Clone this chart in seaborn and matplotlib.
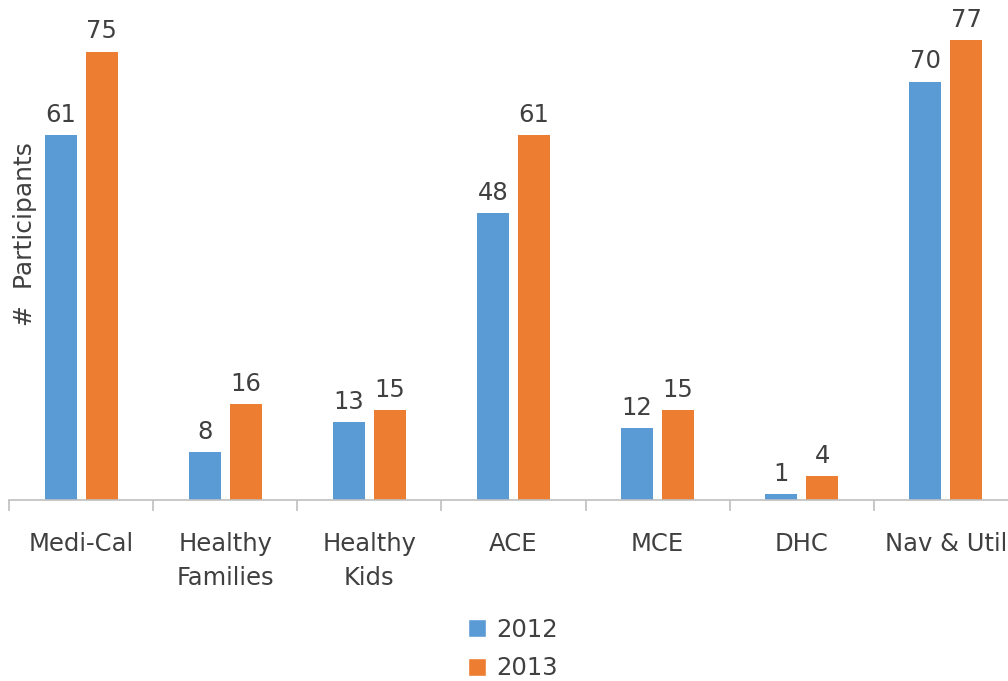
import matplotlib
matplotlib.use("Agg")
import matplotlib.pyplot as plt
import seaborn as sns
import pandas as pd
from matplotlib.patches import Patch

categories = ["Medi-Cal", "Healthy\nFamilies", "Healthy\nKids", "ACE", "MCE", "DHC", "Nav & Util"]
years = ["2012", "2013"]
values_2012 = [61, 8, 13, 48, 12, 1, 70]
values_2013 = [75, 16, 15, 61, 15, 4, 77]
colors = ["#5B9BD5", "#ED7D31"]

df = pd.DataFrame({
    "category": categories * 2,
    "year": [years[0]] * len(categories) + [years[1]] * len(categories),
    "value": values_2012 + values_2013,
})

sns.set_theme(style="white")
plt.rcParams["font.family"] = ["DejaVu Sans"]
text_color = "#404040"
fs = 17.5

fig = plt.figure(figsize=(10.08, 6.81), dpi=100)
ax = fig.add_axes([9 / 1008, (681 - 500) / 681, 1009 / 1008, 490 / 681])

sns.barplot(data=df, x="category", y="value", hue="year", palette=colors,
            order=categories, hue_order=years, width=0.57, gap=0.22,
            legend=False, ax=ax, saturation=1, linewidth=0, edgecolor="none")

for c in ax.containers:
    ax.bar_label(c, padding=6, fontsize=fs, color=text_color)

ax.set_xlim(-0.5, len(categories) - 0.5)
ax.set_ylim(0, 82)
ax.set_yticks([])
ax.set_ylabel("")
ax.set_xlabel("")
for s in ["top", "right", "left"]:
    ax.spines[s].set_visible(False)
ax.spines["bottom"].set_color("#BFBFBF")
ax.spines["bottom"].set_linewidth(1.2)

ax.set_xticks(range(len(categories)))
ax.set_xticklabels(categories, fontsize=fs, color=text_color, linespacing=1.55)
ax.tick_params(axis="x", which="major", length=0, pad=23)
ax.set_xticks([i - 0.5 for i in range(len(categories) + 1)], minor=True)
ax.tick_params(axis="x", which="minor", length=8, width=1.2, color="#BFBFBF", bottom=True)

fig.text(25 / 1008, 1 - 234 / 681, "#  Participants", rotation=90, ha="center", va="center",
         fontsize=18, color=text_color)

handles = [Patch(facecolor=colors[i], label=years[i]) for i in range(2)]
fig.legend(handles=handles, loc="center", bbox_to_anchor=(513 / 1008, 1 - 649 / 681),
           ncol=1, frameon=False, fontsize=fs, labelcolor=text_color,
           handlelength=0.75, handleheight=0.75, handletextpad=0.4, labelspacing=0.6)

fig.savefig("out.png", dpi=100)
